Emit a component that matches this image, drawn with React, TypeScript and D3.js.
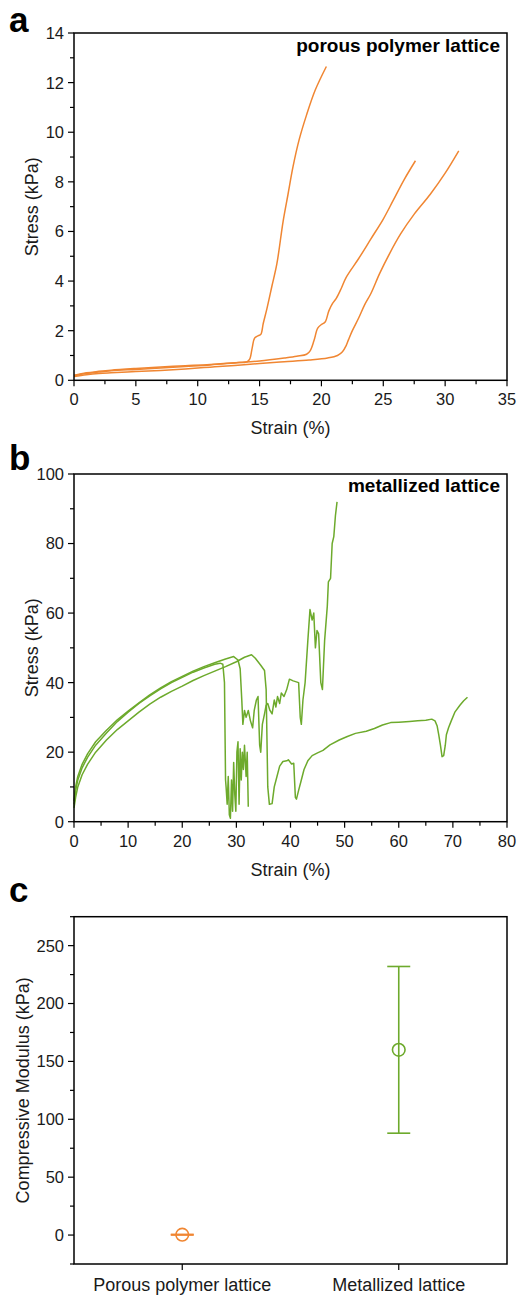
import React from 'react';
import * as d3 from 'd3';

type P = [number, number];

// ---- Panel a: porous polymer lattice (strain %, stress kPa)
const porousCurve1: P[] = [
  [0, 0.2], [1, 0.3], [2, 0.36], [3, 0.41], [5, 0.48], [7, 0.54], [9, 0.59], [11, 0.64], [13, 0.71], [14, 0.75],
  [14.2, 0.85], [14.4, 1.3], [14.6, 1.7], [14.9, 1.8], [15.1, 1.85], [15.3, 2.3], [15.6, 2.9], [16.0, 3.8],
  [16.4, 4.7], [16.9, 6.4], [17.3, 7.5], [17.7, 8.6], [18.2, 9.7], [18.8, 10.7], [19.5, 11.7], [20.4, 12.65],
];
const porousCurve2: P[] = [
  [0, 0.18], [1, 0.27], [2, 0.33], [3, 0.38], [5, 0.44], [7, 0.5], [9, 0.56], [11, 0.62], [13, 0.7], [15, 0.78],
  [17, 0.9], [18, 0.97], [18.8, 1.05], [19.1, 1.2], [19.4, 1.6], [19.7, 2.1], [20, 2.25], [20.3, 2.35], [20.6, 2.8],
  [20.9, 3.1], [21.2, 3.3], [21.6, 3.7], [22, 4.15], [23, 4.9], [24, 5.7], [25, 6.5], [25.8, 7.25], [26.7, 8.1], [27.6, 8.85],
];
const porousCurve3: P[] = [
  [0, 0.15], [1, 0.22], [2, 0.27], [3, 0.3], [5, 0.35], [7, 0.4], [9, 0.46], [11, 0.53], [13, 0.6], [15, 0.68],
  [17, 0.75], [19, 0.82], [20.5, 0.9], [21.3, 1.0], [21.7, 1.15], [22.0, 1.4], [22.2, 1.65], [22.5, 2.0], [23, 2.5],
  [23.5, 3.05], [24, 3.5], [24.7, 4.3], [25.5, 5.1], [26.4, 5.9], [27.5, 6.7], [28.8, 7.5], [30, 8.35], [31.1, 9.25],
];

// ---- Panel b: metallized lattice
const metalCurve1: P[] = [
  [0, 5], [0.3, 9], [0.7, 12], [1.5, 15.5], [2.5, 18.5], [4, 22], [6, 25.5], [8, 28.8], [10, 31.5], [12, 34],
  [14, 36.2], [16, 38.2], [18, 40], [20, 41.5], [22, 43], [24, 44.2], [26, 45.3], [27, 45.6], [27.5, 45.3],
  [27.8, 40], [28.0, 12], [28.1, 10], [28.3, 5], [28.5, 13], [28.7, 2], [28.9, 1], [29.1, 12], [29.3, 3],
  [29.5, 17], [29.7, 8], [29.9, 3], [30.1, 20], [30.3, 23], [30.5, 5], [30.7, 21], [30.9, 12], [31.1, 20],
  [31.3, 15], [31.5, 22], [31.8, 13], [32.0, 20], [32.2, 4.3],
];
const metalCurve2: P[] = [
  [0, 6], [0.3, 10], [0.7, 13], [1.5, 16.5], [2.5, 19.5], [4, 23], [6, 26.3], [8, 29.3], [10, 31.8], [12, 34.2],
  [14, 36.5], [16, 38.5], [18, 40.3], [20, 41.8], [22, 43.3], [24, 44.6], [26, 45.7], [28, 46.8], [29.5, 47.5],
  [30.3, 46.5], [30.7, 44], [31.0, 35], [31.2, 28], [31.5, 32], [31.8, 30], [32.2, 32], [32.6, 29], [33.0, 27],
  [33.3, 32], [33.7, 35], [34.0, 36], [34.3, 22], [34.5, 20], [34.8, 28], [35.2, 31], [35.5, 33.5], [35.8, 34],
  [36.2, 32], [36.6, 31], [37.0, 35], [37.3, 33], [37.6, 36], [38.0, 34], [38.3, 37], [38.8, 36], [39.3, 38],
  [39.8, 41], [40.5, 40.5], [41.5, 40], [41.8, 30], [42.0, 28], [42.3, 35], [42.7, 40], [43.2, 52], [43.6, 61],
  [44.0, 58], [44.3, 60], [44.6, 50], [44.9, 55], [45.2, 54], [45.6, 40], [45.9, 38], [46.3, 52], [46.8, 62],
  [47.0, 69], [47.4, 70], [47.7, 80], [48.0, 82], [48.3, 88], [48.6, 92],
];
const metalCurve3: P[] = [
  [0, 4], [0.3, 7], [0.7, 10], [1.5, 13.5], [2.5, 16.5], [4, 20], [6, 23.5], [8, 26.5], [10, 29], [12, 31.5],
  [14, 33.8], [16, 35.8], [18, 37.5], [20, 39], [22, 40.6], [24, 42], [26, 43.3], [28, 44.6], [30, 46], [31.5, 47.3],
  [32.8, 48], [33.5, 47], [34.5, 45], [35.2, 43.5], [35.5, 38], [35.8, 10], [36.1, 5], [36.6, 5.2], [37, 10],
  [37.5, 13], [38, 16], [38.6, 17.3], [39.3, 17.5], [39.6, 17.8], [40.2, 16.6], [40.6, 16.8], [40.9, 7], [41.1, 6.5],
  [41.5, 9], [42, 12], [42.5, 15], [43.2, 17.5], [44, 19], [45, 19.8], [46, 20.5], [47.3, 22.1], [49, 23.5],
  [50.5, 24.5], [52, 25.4], [54, 26], [55.5, 26.8], [57, 27.8], [58.5, 28.5], [60, 28.6], [62, 28.8], [63.5, 29],
  [65, 29.2], [66.1, 29.5], [66.7, 29], [67.1, 27.5], [67.4, 24.9], [67.7, 22], [68, 18.7], [68.3, 19], [68.6, 22],
  [68.8, 25], [69.2, 27], [69.7, 29], [70.4, 31.6], [71.3, 33.5], [72, 34.8], [72.7, 35.8],
];

// ---- Panel c: compressive modulus
const categories = ['Porous polymer lattice', 'Metallized lattice'];
const modulusMean = [0.3, 160];
const modulusLow = [0, 88];
const modulusHigh = [0.6, 232];

// ---- Ticks
const aXTicks = [0, 5, 10, 15, 20, 25, 30, 35];
const aXMinor = [2.5, 7.5, 12.5, 17.5, 22.5, 27.5, 32.5];
const aYTicks = [0, 2, 4, 6, 8, 10, 12, 14];
const aYMinor = [1, 3, 5, 7, 9, 11, 13];
const bXTicks = [0, 10, 20, 30, 40, 50, 60, 70, 80];
const bXMinor = [5, 15, 25, 35, 45, 55, 65, 75];
const bYTicks = [0, 20, 40, 60, 80, 100];
const bYMinor = [10, 30, 50, 70, 90];
const cYTicks = [0, 50, 100, 150, 200, 250];
const cYMinor = [-25, 25, 75, 125, 175, 225, 275];

const ORANGE = '#F08632';
const GREEN = '#6DAA2C';
const FONT = '"Liberation Sans", Arial, Helvetica, sans-serif';

const L = 74, R = 507;

function Frame({ x, y, top, bottom, xTicks, xMinor, yTicks, yMinor, xTitle, yTitle, yTitleX, xLabelsShown = true }: any) {
  return (
    <g>
      {yMinor.map((t: number) => (
        <line key={'ym' + t} x1={L - 4} x2={L} y1={y(t)} y2={y(t)} stroke="#000" strokeWidth={1.2} />
      ))}
      {yTicks.map((t: number) => (
        <g key={'y' + t}>
          <line x1={L - 6} x2={L} y1={y(t)} y2={y(t)} stroke="#000" strokeWidth={1.2} />
          <text x={L - 10} y={y(t)} dy="0.36em" textAnchor="end" fontSize={16.5} fill="#1a1a1a">{t}</text>
        </g>
      ))}
      {xMinor.map((t: number) => (
        <line key={'xm' + t} x1={x(t)} x2={x(t)} y1={bottom} y2={bottom + 4} stroke="#000" strokeWidth={1.2} />
      ))}
      {xTicks.map((t: number) => (
        <g key={'x' + t}>
          <line x1={x(t)} x2={x(t)} y1={bottom} y2={bottom + 6} stroke="#000" strokeWidth={1.2} />
          {xLabelsShown && (
            <text x={x(t)} y={bottom + 25} textAnchor="middle" fontSize={16.5} fill="#1a1a1a">{t}</text>
          )}
        </g>
      ))}
      <rect x={L} y={top} width={R - L} height={bottom - top} fill="none" stroke="#000" strokeWidth={1.5} />
      {xTitle && (
        <text x={(L + R) / 2} y={bottom + 54} textAnchor="middle" fontSize={18} fill="#1a1a1a">{xTitle}</text>
      )}
      <text transform={`translate(${yTitleX},${(top + bottom) / 2}) rotate(-90)`} textAnchor="middle" fontSize={18} fill="#1a1a1a">{yTitle}</text>
    </g>
  );
}

export default function App() {
  // Panel a
  const aTop = 33, aBottom = 380.3;
  const ax = d3.scaleLinear().domain([0, 35]).range([L, R]);
  const ay = d3.scaleLinear().domain([0, 14]).range([aBottom, aTop]);
  const aLine = d3.line<P>().x(d => ax(d[0])).y(d => ay(d[1])).curve(d3.curveCatmullRom.alpha(0.5));

  // Panel b
  const bTop = 474, bBottom = 821.7;
  const bx = d3.scaleLinear().domain([0, 80]).range([L, R]);
  const by = d3.scaleLinear().domain([0, 100]).range([bBottom, bTop]);
  const bLine = d3.line<P>().x(d => bx(d[0])).y(d => by(d[1]));

  // Panel c
  const cTop = 916.7, cBottom = 1264;
  const cx = d3.scaleLinear().domain([0.5, 2.5]).range([L, R]);
  const cy = d3.scaleLinear().domain([-25, 275]).range([cBottom, cTop]);
  const cColors = [ORANGE, GREEN];

  return (
    <svg width={517} height={1295} style={{ position: 'absolute', left: 0, top: 0, background: '#fff' }} fontFamily={FONT}>
      <rect x={0} y={0} width={517} height={1295} fill="#fff" />
      {/* Panel a */}
      <text x={9} y={32} fontSize={35} fontWeight="bold" fill="#000">a</text>
      {[porousCurve1, porousCurve2, porousCurve3].map((c, i) => (
        <path key={i} d={aLine(c) || ''} fill="none" stroke={ORANGE} strokeWidth={1.5} strokeLinejoin="round" />
      ))}
      <Frame x={ax} y={ay} top={aTop} bottom={aBottom} xTicks={aXTicks} xMinor={aXMinor} yTicks={aYTicks} yMinor={aYMinor}
        xTitle="Strain (%)" yTitle="Stress (kPa)" yTitleX={38} />
      <text x={500} y={52} textAnchor="end" fontSize={19} fontWeight="bold" fill="#000">porous polymer lattice</text>

      {/* Panel b */}
      <text x={9} y={470} fontSize={35} fontWeight="bold" fill="#000">b</text>
      {[metalCurve1, metalCurve2, metalCurve3].map((c, i) => (
        <path key={i} d={bLine(c) || ''} fill="none" stroke={GREEN} strokeWidth={1.5} strokeLinejoin="round" />
      ))}
      <Frame x={bx} y={by} top={bTop} bottom={bBottom} xTicks={bXTicks} xMinor={bXMinor} yTicks={bYTicks} yMinor={bYMinor}
        xTitle="Strain (%)" yTitle="Stress (kPa)" yTitleX={38} />
      <text x={500} y={492} textAnchor="end" fontSize={19} fontWeight="bold" fill="#000">metallized lattice</text>

      {/* Panel c */}
      <text x={9} y={902} fontSize={35} fontWeight="bold" fill="#000">c</text>
      <Frame x={cx} y={cy} top={cTop} bottom={cBottom} xTicks={[1, 2]} xMinor={[]} yTicks={cYTicks} yMinor={cYMinor}
        xTitle={null} yTitle="Compressive Modulus (kPa)" yTitleX={29} xLabelsShown={false} />
      {categories.map((cat, i) => (
        <g key={cat}>
          <line x1={cx(i + 1)} x2={cx(i + 1)} y1={cy(modulusLow[i])} y2={cy(modulusHigh[i])} stroke={cColors[i]} strokeWidth={1.6} />
          <line x1={cx(i + 1) - 11.5} x2={cx(i + 1) + 11.5} y1={cy(modulusLow[i])} y2={cy(modulusLow[i])} stroke={cColors[i]} strokeWidth={1.6} />
          <line x1={cx(i + 1) - 11.5} x2={cx(i + 1) + 11.5} y1={cy(modulusHigh[i])} y2={cy(modulusHigh[i])} stroke={cColors[i]} strokeWidth={1.6} />
          <circle cx={cx(i + 1)} cy={cy(modulusMean[i])} r={6.3} fill="none" stroke={cColors[i]} strokeWidth={1.6} />
          <text x={cx(i + 1)} y={cBottom + 27} textAnchor="middle" fontSize={18} fill="#1a1a1a">{cat}</text>
        </g>
      ))}
    </svg>
  );
}
